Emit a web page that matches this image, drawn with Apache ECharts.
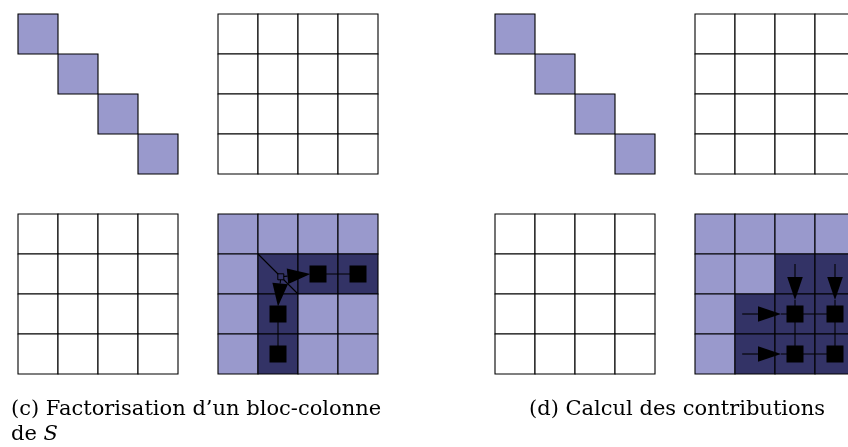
<!DOCTYPE html>
<html>
<head>
<meta charset="utf-8">
<script src="https://cdn.jsdelivr.net/npm/echarts@6/dist/echarts.min.js"></script>
<style>
  html, body { margin: 0; padding: 0; background: #fff; }
  #main { width: 848px; height: 447px; }
</style>
</head>
<body>
<div id="main"></div>
<script>
// everything is in cell units (one block = 1)
const panelOffsets = [0, 11.925]; // (c), (d)
const diagonalBlocks = [0, 1, 2, 3];
const blankMatrix = [
  [0, 0, 0, 0],
  [0, 0, 0, 0],
  [0, 0, 0, 0],
  [0, 0, 0, 0],
];
// 0 = white, 1 = light, 2 = dark
const updateC = [
  [1, 1, 1, 1],
  [1, 2, 2, 2],
  [1, 2, 1, 1],
  [1, 2, 1, 1],
];
const updateD = [
  [1, 1, 1, 1],
  [1, 1, 2, 2],
  [1, 2, 2, 2],
  [1, 2, 2, 2],
];
const squaresC = [[2.5, 1.5], [3.5, 1.5], [1.5, 2.5], [1.5, 3.5]];
const squaresD = [[2.5, 2.5], [3.5, 2.5], [2.5, 3.5], [3.5, 3.5]];
const pivotC = [[1.57, 1.57]];
const linksC = [[2.5, 1.5, 3.5, 1.5], [1.5, 2.5, 1.5, 3.5], [1, 1, 2, 2]];
const linksD = [
  [2.15, 2.5, 3.5, 2.5], [2.15, 3.5, 3.5, 3.5],
  [2.5, 2.15, 2.5, 3.5], [3.5, 2.15, 3.5, 3.5],
];
const arrowsC = [[1.57, 1.57, 2.31, 1.5], [1.57, 1.57, 1.5, 2.31]];
const arrowsD = [
  [1.18, 2.5, 2.15, 2.5], [1.18, 3.5, 2.15, 3.5],
  [2.5, 1.25, 2.5, 2.15], [3.5, 1.25, 3.5, 2.15],
];
const captions = ['(c) Factorisation d’un bloc-colonne', '(d) Calcul des contributions'];

const colors = ['#ffffff', '#9999cc', '#333366'];

// build cells
const cells = [];
panelOffsets.forEach((ox, p) => {
  diagonalBlocks.forEach((k) => cells.push([ox + k, k, 1]));
  const mats = [
    [5, 0, blankMatrix],
    [0, 5, blankMatrix],
    [5, 5, p === 0 ? updateC : updateD],
  ];
  mats.forEach(([mx, my, m]) => {
    m.forEach((row, r) => row.forEach((v, c) => cells.push([ox + mx + c, my + r, v])));
  });
});

const shift = (list, ox) => list.map((a) => a.map((v, i) => (i % 2 === 0 ? v + ox + 5 : v + 5)));
const squares = shift(squaresC, panelOffsets[0]).concat(shift(squaresD, panelOffsets[1]));
const links = shift(linksC, panelOffsets[0]).concat(shift(linksD, panelOffsets[1]));
const arrows = shift(arrowsC, panelOffsets[0]).concat(shift(arrowsD, panelOffsets[1]));
const pivots = shift(pivotC, panelOffsets[0]);

const font = 'DejaVu Serif';
const chart = echarts.init(document.getElementById('main'));
chart.setOption({
  animation: false,
  backgroundColor: '#fff',
  grid: { left: 18, top: 14, width: 830, height: 360 },
  xAxis: { type: 'value', min: 0, max: 20.75, show: false },
  yAxis: { type: 'value', min: 0, max: 9, inverse: true, show: false },
  title: [
    {
      text: captions[0] + '\n{t|de }{s|S}',
      left: 6, top: 392,
      textStyle: {
        fontFamily: font, fontSize: 21, fontWeight: 'normal',
        color: '#000', lineHeight: 25,
        rich: {
          t: { fontFamily: font, fontSize: 21, color: '#000', lineHeight: 25 },
          s: { fontFamily: font, fontSize: 21, fontStyle: 'italic', color: '#000', lineHeight: 25 },
        },
      },
    },
    {
      text: captions[1],
      left: 524, top: 392,
      textStyle: { fontFamily: font, fontSize: 21, fontWeight: 'normal', color: '#000', lineHeight: 25 },
    },
  ],
  series: [
    {
      type: 'custom',
      data: cells,
      z: 1,
      renderItem(params, api) {
        const p = api.coord([api.value(0), api.value(1)]);
        const s = api.size([1, 1]);
        return {
          type: 'rect',
          shape: { x: p[0], y: p[1], width: s[0], height: s[1] },
          style: { fill: colors[api.value(2)], stroke: '#000', lineWidth: 1.1 },
        };
      },
    },
    {
      type: 'custom',
      data: links,
      z: 2,
      renderItem(params, api) {
        const a = api.coord([api.value(0), api.value(1)]);
        const b = api.coord([api.value(2), api.value(3)]);
        return {
          type: 'line',
          shape: { x1: a[0], y1: a[1], x2: b[0], y2: b[1] },
          style: { stroke: '#000', lineWidth: 1.1 },
        };
      },
    },
    {
      type: 'custom',
      data: arrows,
      z: 3,
      renderItem(params, api) {
        const a = api.coord([api.value(0), api.value(1)]);
        const b = api.coord([api.value(2), api.value(3)]);
        const dx = b[0] - a[0];
        const dy = b[1] - a[1];
        const len = Math.sqrt(dx * dx + dy * dy);
        const ux = dx / len;
        const uy = dy / len;
        const headLen = 23;
        const half = 7.8;
        const bx = b[0] - ux * headLen;
        const by = b[1] - uy * headLen;
        return {
          type: 'group',
          children: [
            {
              type: 'line',
              shape: { x1: a[0], y1: a[1], x2: bx, y2: by },
              style: { stroke: '#000', lineWidth: 1.1 },
            },
            {
              type: 'polygon',
              shape: {
                points: [
                  [b[0], b[1]],
                  [bx - uy * half, by + ux * half],
                  [bx + uy * half, by - ux * half],
                ],
              },
              style: { fill: '#000' },
            },
          ],
        };
      },
    },
    {
      type: 'scatter',
      data: squares,
      symbol: 'rect',
      symbolSize: 17,
      z: 4,
      itemStyle: { color: '#000', opacity: 1 },
    },
    {
      type: 'scatter',
      data: pivots,
      symbol: 'rect',
      symbolSize: 6,
      z: 4,
      itemStyle: { color: '#333366', borderColor: '#000', borderWidth: 1, opacity: 1 },
    },
  ],
});
</script>
</body>
</html>
